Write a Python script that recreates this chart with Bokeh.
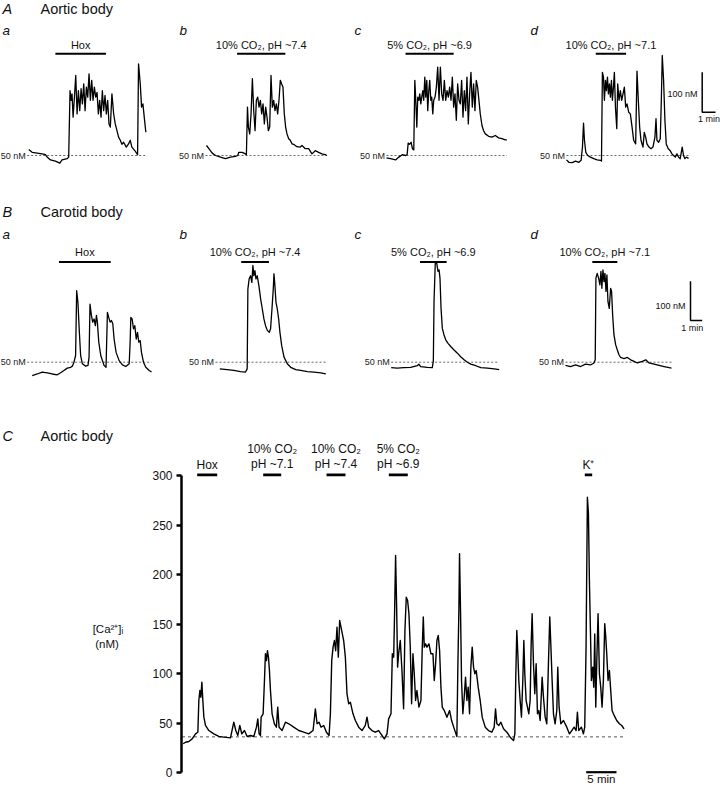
from bokeh.plotting import figure
from bokeh.models import Range1d, LinearAxis, FixedTicker
from bokeh.layouts import column, row
from bokeh.embed import file_html
from bokeh.resources import INLINE
from bokeh.core.properties import value

FONT = "Liberation Sans"

# ======================= DATA =======================
# time in minutes from start of each trace, [Ca2+]i in nM
Aa_t = [0, 0.25, 0.63, 1.0, 1.25, 1.38, 1.63, 2.0, 2.33, 2.5, 2.88, 3.0, 3.1, 3.18, 3.25, 3.33, 3.43, 3.53, 3.63, 3.73,
        3.83, 3.93, 4.03, 4.13, 4.23, 4.33, 4.43, 4.53, 4.63, 4.73, 4.83, 4.93, 5.03, 5.13, 5.23, 5.33, 5.43, 5.53, 5.63, 5.73,
        5.83, 5.93, 6.03, 6.13, 6.25, 6.38, 6.5, 6.63, 6.75, 6.88, 7.0, 7.13, 7.33, 7.5, 7.63, 7.75, 8.0, 8.18, 8.25, 8.38,
        8.48, 8.58, 8.68, 8.8]
Aa_v = [65, 58, 56, 54, 52, 46, 39, 36, 31, 39, 42, 46, 212, 188, 204, 146, 196, 250, 154, 212,
        162, 217, 179, 229, 162, 221, 196, 254, 188, 238, 188, 221, 196, 208, 154, 188, 146, 212, 162, 200,
        154, 188, 129, 121, 204, 154, 129, 112, 96, 88, 78, 83, 71, 79, 88, 71, 61, 52, 279, 229,
        171, 179, 146, 108]

Ab_t = [0, 0.18, 0.43, 0.68, 1.05, 1.43, 1.8, 2.18, 2.35, 2.43, 2.68, 2.93, 3.0, 3.08, 3.15, 3.25, 3.35, 3.45, 3.55, 3.65,
        3.75, 3.85, 3.95, 4.05, 4.15, 4.25, 4.35, 4.45, 4.55, 4.65, 4.75, 4.85, 4.95, 5.05, 5.15, 5.25, 5.35, 5.45, 5.55, 5.65,
        5.75, 5.85, 5.95, 6.05, 6.18, 6.3, 6.43, 6.55, 6.8, 7.05, 7.18, 7.43, 7.68, 7.93, 8.18, 8.43, 8.68, 8.93, 9.05]
Ab_v = [75, 67, 56, 50, 46, 42, 46, 48, 50, 58, 58, 54, 52, 171, 121, 104, 154, 242, 162, 112,
        188, 196, 171, 188, 154, 179, 129, 171, 146, 112, 121, 250, 171, 188, 162, 179, 154, 188, 238, 229,
        221, 154, 121, 104, 92, 88, 79, 78, 72, 71, 75, 67, 67, 54, 62, 58, 54, 52, 50]

Ac_t = [0, 0.3, 0.68, 0.93, 1.18, 1.43, 1.55, 1.63, 1.73, 1.85, 1.95, 2.05, 2.13, 2.2, 2.28, 2.35, 2.43, 2.5, 2.58, 2.65,
        2.73, 2.8, 2.88, 2.95, 3.03, 3.1, 3.18, 3.25, 3.33, 3.4, 3.48, 3.55, 3.65, 3.75, 3.85, 3.95, 4.05, 4.15, 4.25, 4.35,
        4.45, 4.55, 4.65, 4.75, 4.85, 4.95, 5.05, 5.15, 5.25, 5.35, 5.45, 5.55, 5.65, 5.75, 5.85, 5.95, 6.05, 6.15, 6.25, 6.35,
        6.45, 6.55, 6.65, 6.75, 6.85, 6.95, 7.05, 7.18, 7.3, 7.43, 7.68, 7.93, 8.18, 8.43, 8.68, 8.93, 9.05]
Ac_v = [44, 42, 39, 46, 52, 50, 52, 81, 78, 83, 67, 64, 238, 188, 121, 196, 188, 204, 179, 196,
        212, 188, 246, 196, 238, 162, 212, 238, 188, 196, 154, 188, 196, 221, 271, 188, 271, 204, 188, 238,
        188, 212, 196, 221, 188, 246, 171, 204, 138, 229, 188, 179, 238, 146, 212, 162, 246, 129, 204, 258,
        171, 229, 162, 238, 221, 188, 154, 125, 112, 104, 98, 96, 100, 94, 92, 89, 89]

Ad_t = [0, 0.18, 0.43, 0.68, 0.93, 1.1, 1.2, 1.28, 1.35, 1.45, 1.6, 1.8, 2.05, 2.3, 2.55, 2.63, 2.7, 2.78, 2.85, 2.93,
        3.0, 3.08, 3.15, 3.23, 3.3, 3.38, 3.45, 3.53, 3.6, 3.68, 3.78, 3.85, 3.95, 4.05, 4.15, 4.25, 4.35, 4.45, 4.55, 4.68,
        4.8, 4.93, 5.05, 5.2, 5.3, 5.4, 5.5, 5.6, 5.75, 5.85, 5.95, 6.05, 6.2, 6.35, 6.5, 6.65, 6.73, 6.8, 6.93, 7.05,
        7.13, 7.2, 7.3, 7.4, 7.5, 7.65, 7.8, 7.93, 8.05, 8.18, 8.3, 8.43, 8.55, 8.7, 8.8, 8.9, 9.0, 9.18]
Ad_v = [39, 33, 32, 36, 33, 38, 71, 131, 88, 58, 50, 46, 42, 39, 38, 36, 258, 246, 188, 238,
        212, 246, 204, 229, 196, 238, 188, 221, 258, 171, 117, 229, 188, 212, 188, 204, 221, 171, 179, 158,
        154, 121, 88, 79, 261, 188, 121, 88, 71, 108, 96, 79, 71, 67, 71, 96, 142, 88, 83, 92,
        188, 300, 238, 138, 79, 67, 62, 54, 50, 46, 54, 46, 42, 71, 50, 42, 46, 43]

Ba_t = [0, 0.43, 0.86, 1.29, 1.71, 2.14, 2.43, 2.71, 3.0, 3.29, 3.43, 3.57, 3.71, 3.8, 3.91, 4.03, 4.14, 4.29, 4.57, 4.77,
        4.86, 4.94, 5.06, 5.17, 5.29, 5.4, 5.49, 5.57, 5.69, 5.86, 6.14, 6.31, 6.43, 6.54, 6.66, 6.77, 6.89, 7.0, 7.17, 7.43,
        7.71, 8.0, 8.29, 8.37, 8.43, 8.54, 8.66, 8.77, 8.89, 9.0, 9.11, 9.23, 9.34, 9.51, 9.71, 10.0, 10.2]
Ba_v = [16, 20, 25, 23, 20, 18, 23, 29, 35, 37, 40, 50, 67, 232, 202, 126, 67, 46, 40, 42,
        63, 198, 169, 152, 160, 143, 169, 152, 101, 67, 42, 37, 177, 164, 152, 156, 148, 109, 75, 54,
        43, 39, 46, 101, 164, 160, 135, 143, 109, 126, 101, 105, 75, 50, 37, 29, 25]

Bb_t = [0, 0.63, 1.2, 1.77, 2.2, 2.34, 2.4, 2.51, 2.63, 2.74, 2.83, 2.91, 3.0, 3.09, 3.2, 3.34, 3.49, 3.63, 3.77, 3.91,
        4.06, 4.23, 4.34, 4.46, 4.57, 4.63, 4.71, 4.8, 4.91, 5.03, 5.14, 5.29, 5.49, 5.77, 6.06, 6.49, 6.91, 7.49, 8.06, 8.63,
        9.06]
Bb_v = [33, 31, 29, 26, 25, 33, 236, 262, 270, 253, 296, 270, 283, 262, 270, 245, 211, 186, 160, 143,
        131, 126, 135, 186, 236, 275, 245, 203, 186, 160, 126, 92, 63, 46, 37, 31, 29, 26, 25, 23,
        20]

Bc_t = [0, 0.51, 1.09, 1.66, 2.23, 2.37, 2.51, 3.09, 3.51, 3.6, 3.66, 3.77, 3.89, 4.0, 4.09, 4.17, 4.26, 4.37, 4.51, 4.66,
        4.86, 5.09, 5.37, 5.66, 5.94, 6.23, 6.51, 6.8, 7.23, 7.66, 8.23, 8.8, 9.23]
Bc_v = [36, 35, 36, 37, 41, 45, 39, 37, 36, 52, 204, 304, 302, 281, 285, 264, 187, 136, 120, 107,
        98, 90, 81, 73, 64, 56, 50, 45, 41, 36, 35, 33, 31]

Bd_t = [0, 0.43, 0.86, 1.29, 1.71, 2.14, 2.43, 2.54, 2.6, 2.71, 2.83, 2.94, 3.03, 3.11, 3.2, 3.29, 3.37, 3.46, 3.54, 3.63,
        3.74, 3.86, 3.94, 4.03, 4.14, 4.29, 4.43, 4.57, 4.71, 5.0, 5.29, 5.57, 5.86, 6.14, 6.57, 6.86, 7.14, 7.57, 8.0, 8.43,
        8.86, 9.06]
Bd_v = [42, 39, 43, 39, 45, 43, 48, 56, 264, 276, 264, 247, 281, 238, 285, 255, 276, 230, 272, 204,
        187, 238, 230, 170, 120, 94, 81, 69, 62, 59, 62, 56, 52, 48, 52, 56, 48, 45, 42, 39,
        36, 35]

AB_stim_labels = ["Hox", "10% CO₂, pH ~7.4", "5% CO₂, pH ~6.9", "10% CO₂, pH ~7.1"]
A_stim = [(2.0, 5.8), (2.3, 5.93), (1.43, 5.05), (2.2, 4.48)]
B_stim = [(2.29, 6.71), (1.83, 4.2), (2.46, 4.74), (2.29, 4.43)]
AB_baseline = 50          # nM, dashed reference line
AB_baseline_label = "50 nM"

# Panel C: one long recording
C_t = [0.00, 0.38, 0.93, 1.48, 2.03, 2.42, 2.58, 2.75, 2.91, 3.08, 3.24, 3.41, 3.68, 4.23, 5.05, 5.88, 6.70, 7.80, 8.35, 8.68,
       9.01, 9.34, 9.67, 10.11, 10.55, 11.10, 11.65, 12.09, 12.31, 12.53, 12.75,
       12.86, 13.19, 13.41, 13.57, 13.74, 13.90, 14.07, 14.23, 14.40, 14.67,
       15.05, 15.38, 15.60, 15.82, 16.32, 16.87, 17.42, 18.24, 19.07, 19.89,
       20.71, 21.43, 21.81, 22.09, 22.42, 22.75, 23.19, 23.63, 24.07, 24.29,
       24.51, 24.73, 24.95, 25.16, 25.38, 25.60, 25.82, 26.04, 26.26, 26.48,
       26.76, 27.03, 27.31, 27.58, 28.02, 28.41, 28.96, 29.51, 30.05, 30.33,
       30.60, 31.15, 31.70, 32.25, 32.80, 33.19, 33.63, 33.90, 34.29, 34.51,
       34.73, 34.89, 35.05, 35.22, 35.38, 35.55, 35.82, 36.10, 36.37, 36.59,
       36.81, 37.03, 37.25, 37.47, 37.69, 37.91, 38.13, 38.35, 38.57, 38.90,
       39.23, 39.45, 39.62, 39.78, 40.00, 40.22, 40.55, 40.88, 41.21, 41.43,
       41.65, 41.87, 42.09, 42.31, 42.53, 42.75, 43.08, 43.52, 43.96, 44.29,
       44.73, 45.16, 45.33, 45.49, 45.60, 45.77, 45.93, 46.15, 46.37, 46.59,
       46.81, 47.03, 47.25, 47.47, 47.69, 47.91, 48.13, 48.35, 48.68, 49.01,
       49.34, 49.84, 50.38,
       50.93, 51.32, 51.54, 51.76, 52.09, 52.42, 52.86, 53.41, 53.96, 54.51,
       54.73, 54.89, 55.05, 55.22, 55.38, 55.60, 55.82, 56.04, 56.21, 56.37,
       56.59, 56.81, 57.03, 57.25, 57.42, 57.58, 57.80, 58.02, 58.24, 58.46,
       58.68, 58.90, 59.23, 59.45, 59.73, 60.00, 60.27, 60.49, 60.66, 60.88,
       61.10, 61.37, 61.65, 61.81, 62.03, 62.31, 62.75, 63.30, 63.74, 64.12,
       64.51, 64.84, 65.05, 65.27, 65.71, 66.04, 66.26, 66.48, 66.70, 66.87,
       67.03, 67.20, 67.36, 67.58, 67.75, 67.91, 68.08, 68.24, 68.46, 68.68,
       68.90, 69.12, 69.34, 69.56, 69.73, 69.89, 70.11, 70.33, 70.55, 70.77,
       70.99, 71.26, 71.54, 71.98, 72.36, 72.75]
C_v = [29, 30.6, 31.3, 34, 39, 40.7, 72.7, 82.8, 76, 91.2, 72.7, 55.9, 47.5, 42.4, 39, 36.4, 35.7, 35, 50.8, 42.4,
       37.4, 47.5, 39, 42.4, 36.4, 37.4, 36.4, 45.8, 54.2, 39, 37.4,
       55.9, 59.3, 93, 119.9, 113, 123, 116.5, 103, 82.8, 59.3,
       49.2, 45.8, 66, 45.8, 42.4, 50.8, 49.2, 45.8, 42.4, 40.7,
       39, 42.4, 64.3, 49.2, 50.8, 45.8, 47.5, 40.7, 37.4, 59.3,
       113, 126.6, 133.3, 123, 146.8, 116.5, 153.5, 146.8, 140, 133.3,
       116.5, 79.5, 69.4, 71, 59.3, 52.5, 45.8, 42.4, 47.5, 55.9,
       45.8, 42.4, 40.7, 42.4, 37.4, 34, 39, 54.2, 59.3, 119.9,
       116.5, 163.6, 219.2, 167, 106.4, 119.9, 133.3, 103, 64.3, 143.4,
       177, 173.7, 160.3, 126.6, 69.4, 119.9, 99.7, 72.7, 82.8, 66,
       72.7, 126.6, 157, 126.6, 130, 126.6, 130, 119.9, 119.9, 93,
       110, 133.3, 138.4, 123, 86.2, 66, 62.6, 55.9, 62.6, 52.5,
       44.1, 36.4, 109.8, 163.6, 220.9, 160.3, 93, 59.3, 76, 96.3,
       72.7, 86.2, 59.3, 106.4, 126.6, 106.4, 99.7, 103, 86.2, 72.7,
       55.9, 45.8, 42.4,
       40.7, 45.8, 64.3, 49.2, 47.5, 50.8, 44.1, 40.7, 35.7, 32.3,
       39, 99.7, 143.4, 119.9, 93, 72.7, 55.9, 93, 133.3, 99.7,
       72.7, 66, 59.3, 72.7, 130, 160.3, 109.8, 79.5, 109.8, 59.3,
       62.6, 52.5, 96.3, 76, 55.9, 49.2, 109.8, 157, 130, 93,
       59.3, 49.2, 62.6, 106.4, 66, 49.2, 52.5, 45.8, 39, 42.4,
       45.8, 42.4, 60.9, 42.4, 45.8, 39, 45.8, 126.6, 278.1, 261.3,
       193.9, 143.4, 93, 106.4, 86.2, 140, 66, 109.8, 160.3, 99.7,
       86.2, 66, 93, 150.2, 136.7, 119.9, 93, 103, 82.8, 62.6,
       59.3, 55.9, 52.5, 49.2, 47.5, 44.1]
C_baseline = 36
C_stim = [(2.31, 5.61), (13.2, 16.17), (23.65, 26.78), (33.93, 37.06), (66.27, 67.49)]
C_stim_line1 = ["Hox", "10% CO₂", "10% CO₂", "5% CO₂", "K⁺"]
C_stim_line2 = ["", "pH ~7.1", "pH ~7.4", "pH ~6.9", ""]
C_ticks = [0, 50, 100, 150, 200, 250, 300]
SCALE_NM = 100
SCALE_MIN_AB = 1
SCALE_MIN_C = 5

# ======================= LAYOUT =======================
W, H_TOP, H_BOT, W_CL = 720, 395, 391, 130
PX_L, PX_R, PX_T = 0, 720, 0
PX_MID = PX_T + H_TOP          # 395
PX_B = PX_MID + H_BOT          # 786

ROWS = {
    "A": dict(y50=155.0, ppm=13.3, ppn=0.4, letter_y=30.0, label_y=44.3, bar_y=53.3,
              title_y=8.0, title="Aortic body", x0=[28.3, 206.0, 386.0, 566.0],
              lead=[1.6, 1.0, 0.0, 0.0], stim=A_stim,
              data=[(Aa_t, Aa_v), (Ab_t, Ab_v), (Ac_t, Ac_v), (Ad_t, Ad_v)]),
    "B": dict(y50=361.7, ppm=11.7, ppn=0.393, letter_y=234.3, label_y=251.0, bar_y=261.5,
              title_y=211.7, title="Carotid body", x0=[31.7, 219.3, 390.7, 565.0],
              lead=[5.0, 4.3, 0.0, 0.0], stim=B_stim,
              data=[(Ba_t, Ba_v), (Bb_t, Bb_v), (Bc_t, Bc_v), (Bd_t, Bd_v)]),
}
LETTER_X = [2, 179, 354, 530]


def new_fig(w, h, xr, yr):
    p = figure(width=w, height=h, x_range=xr, y_range=yr, output_backend="svg",
               toolbar_location=None, x_axis_location=None, y_axis_location=None,
               title=None, min_border=0)
    p.outline_line_color = None
    p.grid.visible = False
    p.background_fill_color = "white"
    p.border_fill_color = "white"
    return p


def txt(p, x, y, s, size, align="center", baseline="middle", style="normal",
        color="#111111", xr="default", yr="default", x_offset=0):
    p.text(x=[x], y=[y], text=[s], text_font=value(FONT), text_font_size=size,
           text_align=align, text_baseline=baseline, text_font_style=style,
           text_color=color, x_range_name=xr, y_range_name=yr, x_offset=x_offset)


top = new_fig(W, H_TOP, Range1d(PX_L, PX_R), Range1d(PX_MID, PX_T))

xrs, yrs = {}, {}
for rk, r in ROWS.items():
    for i, letter in enumerate("abcd"):
        key = rk + letter
        x0 = r["x0"][i]
        xrs[key] = Range1d((PX_L - x0) / r["ppm"], (PX_R - x0) / r["ppm"])
        yrs[key] = Range1d(AB_baseline - (PX_MID - r["y50"]) / r["ppn"],
                           AB_baseline + (r["y50"] - PX_T) / r["ppn"])
top.extra_x_ranges = xrs
top.extra_y_ranges = yrs

for rk, r in ROWS.items():
    txt(top, 2, r["title_y"], rk, "14.5px", align="left", style="italic")
    txt(top, 40, r["title_y"], r["title"], "14.5px", align="left")
    for i, letter in enumerate("abcd"):
        key = rk + letter
        t, v = r["data"][i]
        s0, s1 = r["stim"][i]
        lead_t = r["lead"][i] / r["ppm"]
        txt(top, LETTER_X[i], r["letter_y"], letter, "13.5px", align="left", style="italic")
        # dashed 50 nM reference
        top.segment(x0=[t[0] - lead_t], y0=[AB_baseline], x1=[t[-1]], y1=[AB_baseline],
                    x_range_name=key, y_range_name=key, line_color="#555555",
                    line_width=0.9, line_dash="2 2")
        txt(top, t[0] - lead_t, AB_baseline, AB_baseline_label, "9px", align="right",
            xr=key, yr=key, x_offset=-1.5, color="#222222")
        # trace
        top.line(t, v, x_range_name=key, y_range_name=key, line_color="black",
                 line_width=1.3, line_join="round")
        # stimulus bar + label
        top.segment(x0=[s0], y0=[r["bar_y"]], x1=[s1], y1=[r["bar_y"]], x_range_name=key,
                    line_color="black", line_width=2)
        txt(top, (s0 + s1) / 2, r["label_y"], AB_stim_labels[i], "11px", xr=key)


def scale_bar(p, key, r, x0, cx, cy, nm_lbl, min_lbl):
    tc = (cx - x0) / r["ppm"]
    vc = AB_baseline + (r["y50"] - cy) / r["ppn"]
    p.line([tc, tc, tc + SCALE_MIN_AB], [vc + SCALE_NM, vc, vc], x_range_name=key,
           y_range_name=key, line_color="black", line_width=1.5)
    txt(p, nm_lbl[0], nm_lbl[1], f"{SCALE_NM} nM", "9px", align=nm_lbl[2])
    txt(p, min_lbl[0], min_lbl[1], f"{SCALE_MIN_AB} min", "9px", align=min_lbl[2])


scale_bar(top, "Ad", ROWS["A"], ROWS["A"]["x0"][3], 701.7, 111.7,
          (697.0, 93.3, "right"), (708.5, 118.3, "center"))
scale_bar(top, "Bd", ROWS["B"], ROWS["B"]["x0"][3], 690.0, 320.0,
          (685.0, 305.0, "right"), (691.7, 327.7, "center"))

# ---------------- panel C ----------------
C_X0, C_PPM, C_Y0, C_PPN = 182.7, 6.06, 772.0, 0.99
C_FRAME_L = 181
C_BORDER_L = C_FRAME_L - PX_L - W_CL

cl = new_fig(W_CL, H_BOT, Range1d(PX_L, PX_L + W_CL), Range1d(PX_B, PX_MID))
txt(cl, 2, 435, "C", "14.5px", align="left", style="italic")
txt(cl, 40, 435, "Aortic body", "14.5px", align="left")
txt(cl, 107.5, 628.3, "[Ca²⁺]ᵢ", "11.5px")
txt(cl, 106.5, 643.3, "(nM)", "11.5px")

fc = new_fig(W - W_CL, H_BOT,
             Range1d((C_FRAME_L - C_X0) / C_PPM, (PX_R - C_X0) / C_PPM),
             Range1d((C_Y0 - PX_B) / C_PPN, (C_Y0 - PX_MID) / C_PPN))
fc.min_border_left = C_BORDER_L
fc.extra_y_ranges = {"px": Range1d(PX_B, PX_MID)}

yax = LinearAxis(ticker=FixedTicker(ticks=C_ticks, minor_ticks=[]), bounds=(0, 300))
yax.axis_line_width = 2.5
yax.axis_line_color = "black"
yax.major_tick_line_width = 2.5
yax.major_tick_line_color = "black"
yax.major_tick_out = 5
yax.major_tick_in = 0
yax.minor_tick_out = 0
yax.minor_tick_in = 0
yax.major_label_text_font = FONT
yax.major_label_text_font_size = "12px"
yax.major_label_text_color = "#111111"
yax.major_label_standoff = 4
fc.add_layout(yax, "left")

fc.segment(x0=[C_t[0] - 0.2], y0=[C_baseline], x1=[C_t[-1]], y1=[C_baseline],
           line_color="#555555", line_width=1, line_dash="3 3")
fc.line(C_t, C_v, line_color="black", line_width=1.4, line_join="round")

for (s0, s1), l1, l2 in zip(C_stim, C_stim_line1, C_stim_line2):
    fc.segment(x0=[s0], y0=[474.3], x1=[s1], y1=[474.3], y_range_name="px",
               line_color="black", line_width=2.7)
    mid = (s0 + s1) / 2
    if l2:
        txt(fc, mid, 448.3, l1, "12px", yr="px")
        txt(fc, mid, 463.3, l2, "12px", yr="px")
    else:
        txt(fc, mid, 464.0, l1, "12px", yr="px")

sb0 = (585.7 - C_X0) / C_PPM
fc.segment(x0=[sb0], y0=[771.7], x1=[sb0 + SCALE_MIN_C], y1=[771.7], y_range_name="px",
           line_color="black", line_width=2.2)
txt(fc, sb0 + SCALE_MIN_C / 2, 778.5, f"{SCALE_MIN_C} min", "11.5px", yr="px")

layout = column(top, row(cl, fc))
open("out.html", "w").write(file_html(layout, INLINE))
